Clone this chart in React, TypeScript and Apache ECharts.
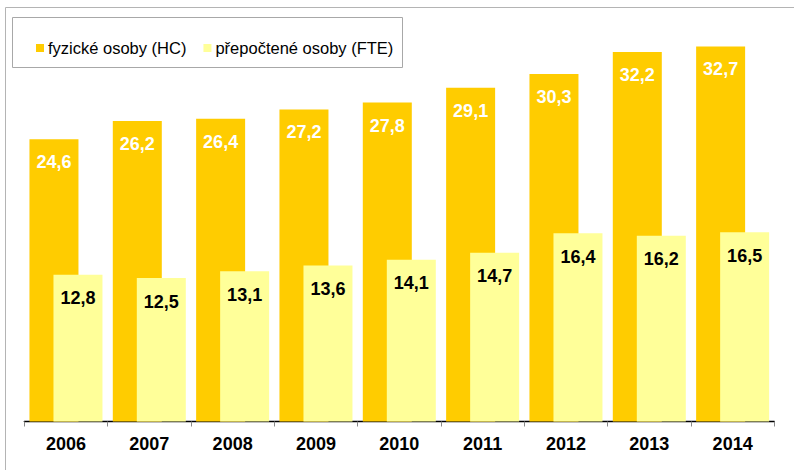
import React, { useEffect, useRef } from "react";
import * as echarts from "echarts";

const categories = ["2006", "2007", "2008", "2009", "2010", "2011", "2012", "2013", "2014"];
const hcValues = [24.6, 26.2, 26.4, 27.2, 27.8, 29.1, 30.3, 32.2, 32.7];
const fteValues = [12.8, 12.5, 13.1, 13.6, 14.1, 14.7, 16.4, 16.2, 16.5];
const seriesNames = ["fyzické osoby (HC)", "přepočtené osoby (FTE)"];

const FONT = "'Liberation Sans', Arial, sans-serif";
const fmt = (p: any) => String(p.value).replace(".", ",");

export default function App() {
  const ref = useRef<HTMLDivElement>(null);
  useEffect(() => {
    if (!ref.current) return;
    const chart = echarts.init(ref.current, null, { renderer: "svg" });
    chart.setOption({
      animation: false,
      backgroundColor: "#ffffff",
      graphic: [
        {
          type: "rect",
          shape: { x: 5.5, y: 7.5, width: 820, height: 520 },
          style: { fill: "none", stroke: "#b4b4b4", lineWidth: 1 },
          silent: true,
          z: -10,
        },
        {
          type: "rect",
          shape: { x: 12.5, y: 17.5, width: 390, height: 50 },
          style: { fill: "#ffffff", stroke: "#a8a8a8", lineWidth: 1 },
          silent: true,
          z: 10,
        },
      ],
      legend: {
        left: 31,
        top: 34,
        itemWidth: 8,
        itemHeight: 8,
        itemGap: 17,
        icon: "rect",
        z: 20,
        textStyle: { fontFamily: FONT, fontSize: 16.5, color: "#000", lineHeight: 18, padding: [0, 0, 0, -1] },
        data: seriesNames,
      },
      grid: { left: 24.3, right: 19.7, top: 20, bottom: 48.5 },
      xAxis: {
        type: "category",
        data: categories,
        axisLine: { lineStyle: { color: "#000", width: 1.3 } },
        axisTick: { show: true, length: 5, lineStyle: { color: "#888" } },
        axisLabel: { fontFamily: FONT, fontSize: 18, fontWeight: "bold", color: "#000", margin: 13 },
      },
      yAxis: {
        type: "value",
        min: 0,
        max: 35,
        show: false,
        splitLine: { show: false },
      },
      series: [
        {
          name: seriesNames[0],
          type: "bar",
          data: hcValues,
          barWidth: "58.8%",
          barGap: "-51%",
          itemStyle: { color: "#FFCC00" },
          label: {
            show: true,
            position: "insideTop",
            distance: 14,
            formatter: fmt,
            fontFamily: FONT,
            fontSize: 18,
            fontWeight: "bold",
            color: "#ffffff",
          },
        },
        {
          name: seriesNames[1],
          type: "bar",
          data: fteValues,
          barWidth: "58.8%",
          barGap: "-51%",
          itemStyle: { color: "#FFFF99" },
          label: {
            show: true,
            position: "insideTop",
            distance: 14.5,
            formatter: fmt,
            fontFamily: FONT,
            fontSize: 18,
            fontWeight: "bold",
            color: "#000000",
          },
        },
      ],
    });
    return () => chart.dispose();
  }, []);
  return (
    <div
      ref={ref}
      style={{ position: "fixed", left: 0, top: 0, width: 794, height: 470 }}
    />
  );
}
